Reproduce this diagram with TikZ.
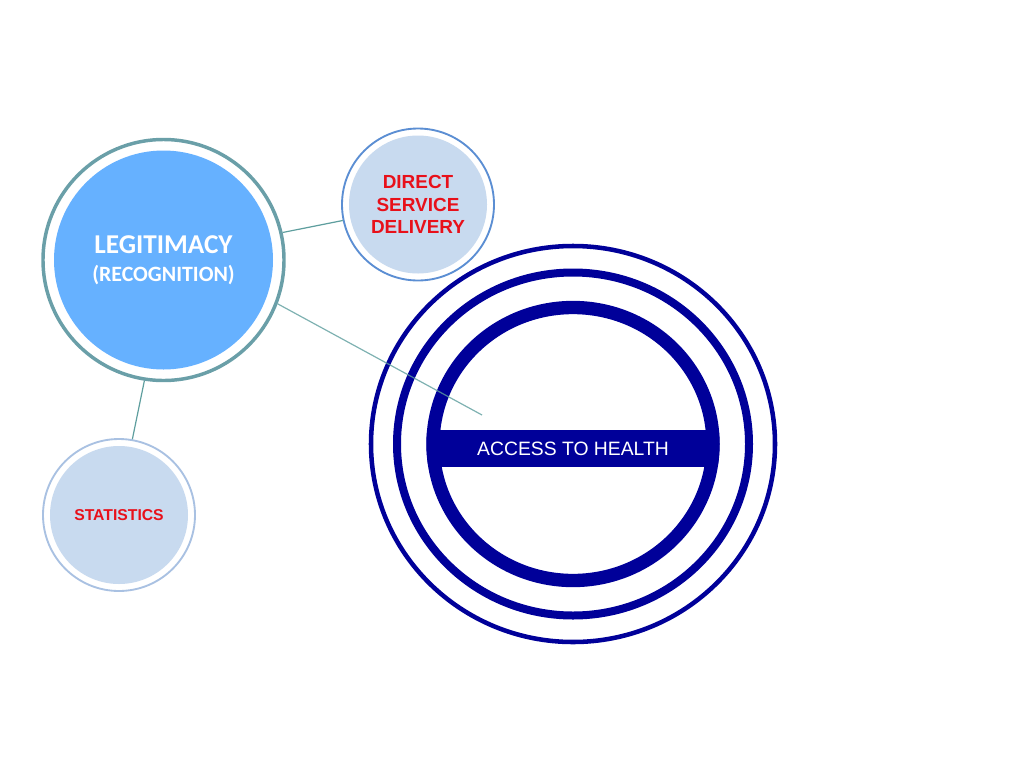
\documentclass[tikz,border=0pt]{standalone}
\usepackage{fontspec}
\setmainfont{Liberation Sans}
\newfontfamily\calib{Carlito}
\definecolor{teal1}{HTML}{6A9FA8}
\definecolor{legfill}{HTML}{66B1FF}
\definecolor{smallring}{HTML}{5B8ED3}
\definecolor{statring}{HTML}{A9C1E2}
\definecolor{smallfill}{HTML}{C8DAEF}
\definecolor{navy1}{HTML}{000099}
\definecolor{txtred}{HTML}{E8101A}
\definecolor{linkc}{HTML}{5E9E9E}
\tikzset{
  ringnode/.style={circle, inner sep=0pt, minimum size=#1},
  linkline/.style={draw=linkc, line width=0.9pt},
  redtext/.style={text=txtred, font=\bfseries, align=center},
  legtext/.style={text=white, inner sep=0pt},
}
\begin{document}
\begin{tikzpicture}[x=0.75pt,y=-0.75pt]
\useasboundingbox (0,0) rectangle (1024,768);
% Legitimacy
\node[ringnode=241*0.75pt, draw=teal1, line width=2.6pt, fill=white] (leg) at (163.5,260) {};
\fill[legfill] (163.5,260) circle[radius=109.5];
\node[legtext, font=\calib\bfseries\fontsize{20.4pt}{24pt}\selectfont] (legtxt) at (163.5,245) {LEGITIMACY};
\node[legtext, font=\calib\bfseries\fontsize{16.4pt}{20pt}\selectfont] (rectxt) at (163.5,275) {(RECOGNITION)};
% Direct service delivery
\node[ringnode=152*0.75pt, draw=smallring, line width=1.4pt, fill=white] (dsd) at (418,204.5) {};
\fill[smallfill] (418,204.5) circle[radius=69];
\node[redtext, font=\bfseries\fontsize{14.2pt}{16.8pt}\selectfont] (dsdtxt) at (418,204.5) {DIRECT\\SERVICE\\DELIVERY};
% Statistics
\node[ringnode=152*0.75pt, draw=statring, line width=1.4pt, fill=white] (stat) at (119,515) {};
\fill[smallfill] (119,515) circle[radius=69];
\node[redtext, font=\bfseries\fontsize{11.8pt}{14pt}\selectfont] (stattxt) at (119,515) {STATISTICS};
% Access to health rings
\coordinate (ac) at (573,444);
\draw[navy1, line width=3.4pt] (ac) ellipse[x radius=202, y radius=198];
\draw[navy1, line width=6pt] (ac) ellipse[x radius=176, y radius=171.5];
\draw[navy1, line width=10pt] (ac) ellipse[x radius=140, y radius=136.5];
\begin{scope}
  \clip (ac) ellipse[x radius=146.5, y radius=143];
  \fill[navy1] (420,430) rectangle (730,467);
\end{scope}
\node[text=white, font=\fontsize{14.5pt}{16pt}\selectfont] (ah) at (573,449) {ACCESS TO HEALTH};
\coordinate (lineend) at (482,415);
% connectors
\draw[linkline] (leg.13) -- (dsd.192);
\draw[linkline, draw opacity=0.8] (leg.-21) -- (lineend);
\draw[linkline] (leg.-99) -- (stat.80);
\end{tikzpicture}
\end{document}
